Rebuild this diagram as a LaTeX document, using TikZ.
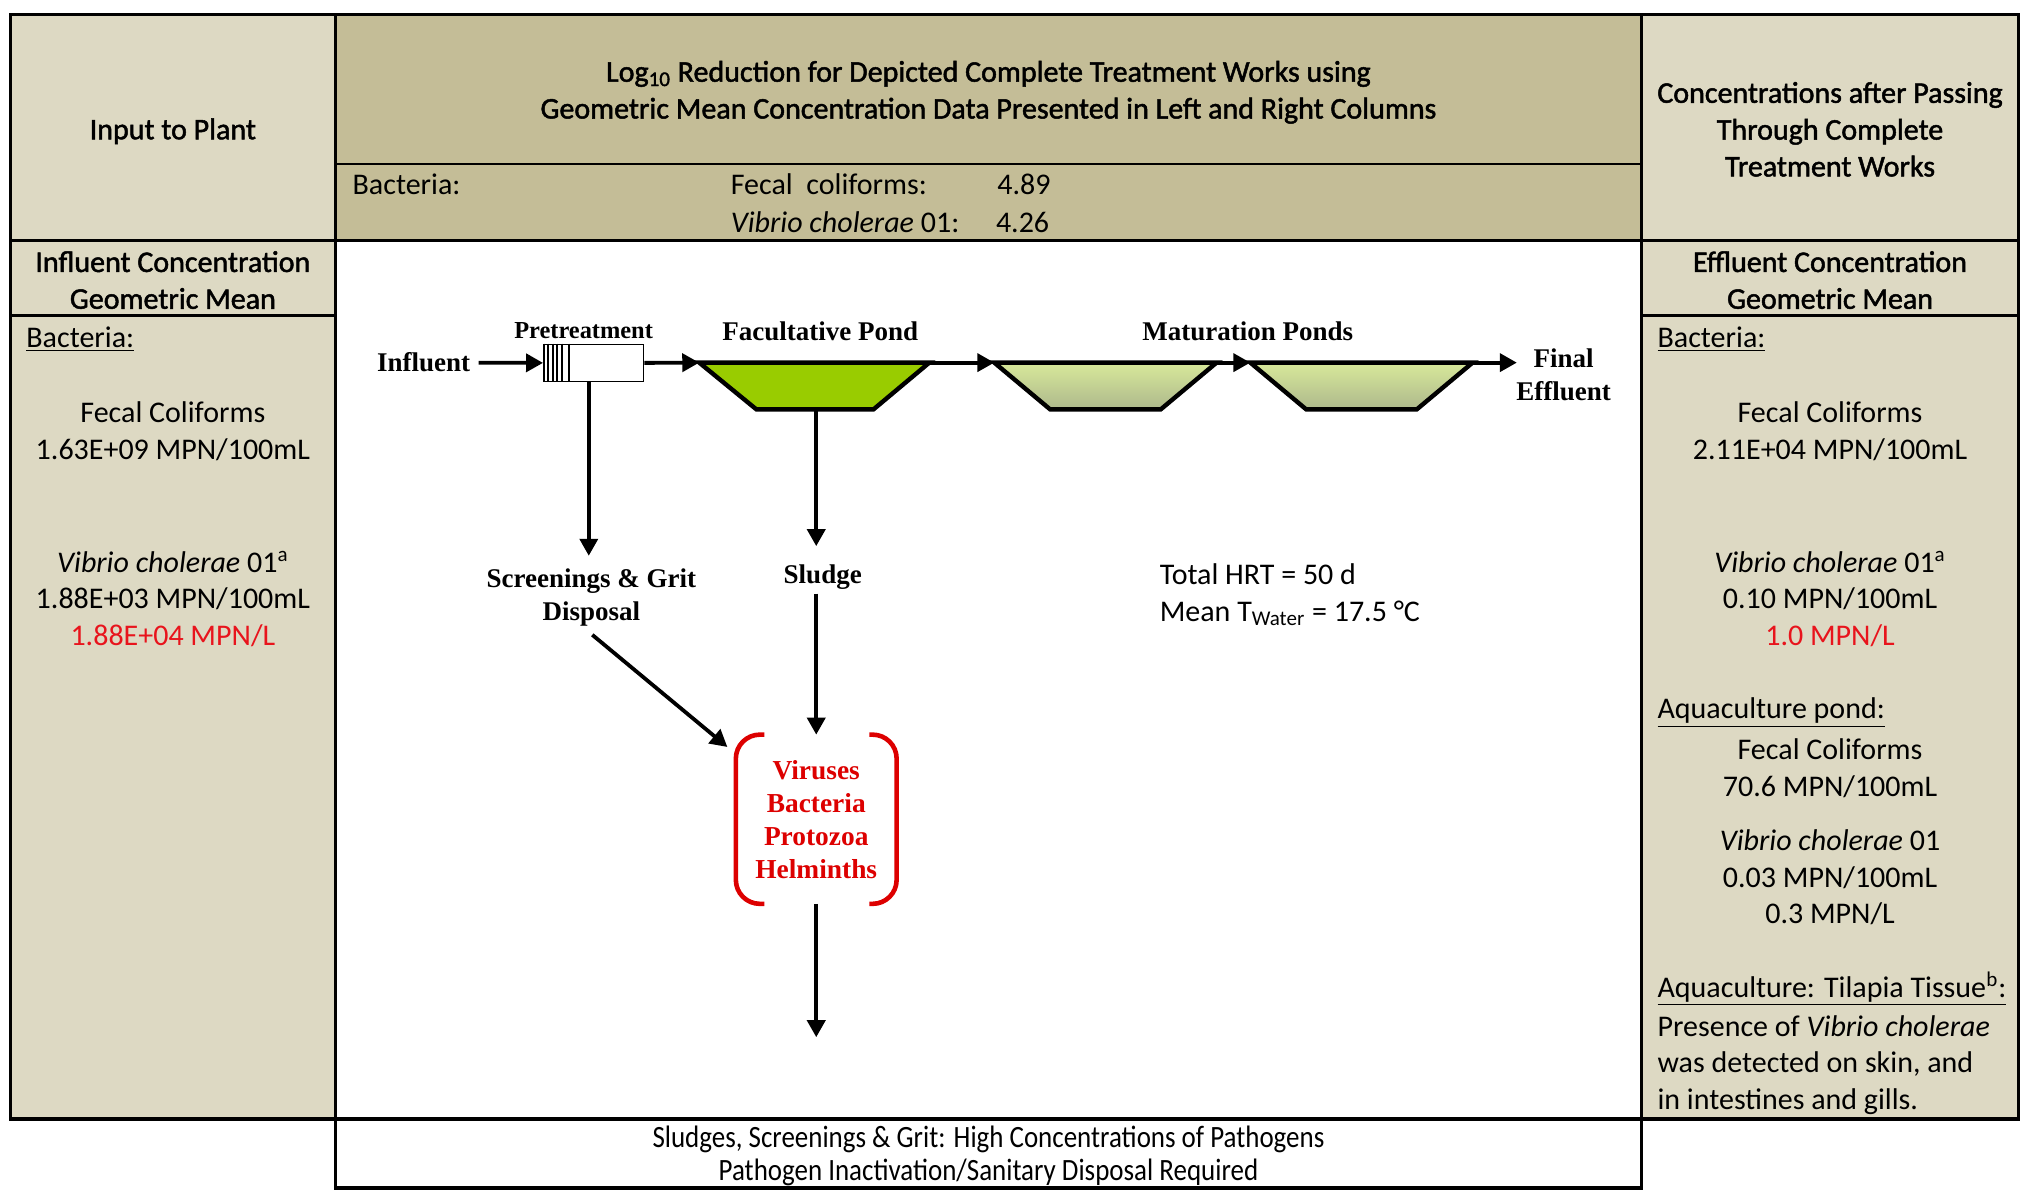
\documentclass[tikz,border=0pt]{standalone}
\usepackage{fontspec}
\setmainfont{Carlito}
\newfontfamily\tnr{Liberation Serif}
\newfontfamily\hdrf[FakeBold=1.6]{Carlito}
\newfontfamily\condf[FakeStretch=0.87]{Carlito}
\usetikzlibrary{arrows.meta,calc}
\definecolor{sidebg}{HTML}{DDD9C3}
\definecolor{headbg}{HTML}{C4BD97}
\definecolor{facg}{HTML}{99CC00}
\definecolor{matt}{HTML}{D8E99A}
\definecolor{matb}{HTML}{ADB88C}
\definecolor{redc}{HTML}{E8141C}
\definecolor{redt}{HTML}{DD0000}
\begin{document}
\begin{tikzpicture}[x=0.64985pt,y=-0.64985pt,
  txt/.style={inner sep=0pt,align=center,font=\fontsize{15}{18.4}\selectfont},
  hdr/.style={inner sep=0pt,align=center,font=\hdrf\fontsize{15}{18.4}\selectfont},
  lft/.style={txt,anchor=west,align=left},
  flow/.style={inner sep=0pt,align=center,font=\tnr\bfseries\fontsize{13.5}{16.5}\selectfont},
  frame/.style={line width=1.6pt},
  thin/.style={line width=0.8pt},
  arr/.style={line width=1.9pt,-{Triangle[length=8.5pt,width=9pt]}},
  pond/.style={line width=2.2pt,line join=miter},
  bracket/.style={draw=redt,line width=2.3pt,rounded corners=12pt},
  prebox/.style={draw,line width=0.7pt,fill=white,minimum width=50pt,minimum height=18.5pt,inner sep=0pt}]
\useasboundingbox[fill=white] (0,0) rectangle (1568,919);
% backgrounds
\fill[sidebg] (8,11) rectangle (258,861);
\fill[sidebg] (1263,11) rectangle (1553,861);
\fill[headbg] (258,11) rectangle (1263,185);
% table lines
\draw[frame] (8,11) rectangle (1553,861);
\draw[frame] (258,11) -- (258,861);
\draw[frame] (1263,11) -- (1263,861);
\draw[frame] (8,185) -- (1553,185);
\draw[thin] (258,126) -- (1263,126);
\draw[frame] (8,243) -- (258,243);
\draw[frame] (1263,243) -- (1553,243);
\draw[frame] (258,861) rectangle (1263,914);

% left column
\node[hdr] (inL) at (133,101) {Input to Plant};
\node[hdr] (hdL) at (133,215.5) {Influent Concentration\\Geometric Mean};
\node[lft] (bacL) at (20,261) {\underline{Bacteria:}};
\node[txt] (fcL) at (133,332) {Fecal Coliforms\\1.63E+09 MPN/100mL};
\node[txt] (vcL) at (133,461) {\textit{Vibrio cholerae} 01\textsuperscript{a}\\1.88E+03 MPN/100mL\\\textcolor{redc}{1.88E+04 MPN/L}};

% middle header
\node[hdr] (title) at (760.5,71) {Log\textsubscript{10} Reduction for Depicted Complete Treatment Works using\\Geometric Mean Concentration Data Presented in Left and Right Columns};
\node[lft] (bacM) at (271,142) {Bacteria:};
\node[lft] (fcM) at (562,142) {Fecal~~coliforms:};
\node[lft] (fcV) at (767,142) {4.89};
\node[lft] (vcM) at (562,171) {\textit{Vibrio cholerae} 01:};
\node[lft] (vcV) at (766,171) {4.26};

% right column
\node[hdr] (inR) at (1408,99.5) {Concentrations after Passing\\Through Complete\\Treatment Works};
\node[hdr] (hdR) at (1408,215.5) {Effluent Concentration\\Geometric Mean};
\node[lft] (bacR) at (1275,261) {\underline{Bacteria:}};
\node[txt] (fcR) at (1408,332) {Fecal Coliforms\\2.11E+04 MPN/100mL};
\node[txt] (vcR) at (1408,461) {\textit{Vibrio cholerae} 01\textsuperscript{a}\\0.10 MPN/100mL\\\textcolor{redc}{1.0 MPN/L}};
\node[lft] (aqR) at (1275,548) {\underline{Aquaculture pond:}};
\node[txt] (afR) at (1408,591) {Fecal Coliforms\\70.6 MPN/100mL};
\node[txt] (avR) at (1408,675) {\textit{Vibrio cholerae} 01\\0.03 MPN/100mL\\0.3 MPN/L};
\node[lft] (tiR) at (1275,761) {\underline{Aquaculture: Tilapia Tissue\textsuperscript{b}:}};
\node[lft] (prR) at (1275,819.5) {Presence of \textit{Vibrio cholerae}\\was detected on skin, and\\in intestines and gills.};

% bottom box
\node[inner sep=0pt,align=center,font=\condf\fontsize{15.5}{16.3}\selectfont] (bot) at (760.5,889.5) {Sludges, Screenings \& Grit: High Concentrations of Pathogens\\Pathogen Inactivation/Sanitary Disposal Required};

% flow diagram
\node[flow] (infl) at (326,279) {Influent};
\node[prebox] (pre) at (456.8,279.2) {};
\foreach \dx in {0.9,4.0,7.4,10.9,14.4}
  \draw[line width=1.1pt] ($(pre.north west)+(\dx,0)$) -- ($(pre.south west)+(\dx,0)$);
\draw[line width=0.6pt] ($(pre.north west)+(20,0)$) -- ($(pre.south west)+(20,0)$);
\node[flow,font=\tnr\bfseries\fontsize{12.2}{14}\selectfont] (prelab) at (449,254) {Pretreatment};
\node[flow] (faclab) at (631,255) {Facultative Pond};
\node[flow] (matlab) at (960,255) {Maturation Ponds};
\node[flow] (fin) at (1203,288) {Final\\Effluent};

% ponds
\coordinate (f1) at (538,279); \coordinate (f2) at (715,279);
\coordinate (f3) at (672,315); \coordinate (f4) at (582,315);
\coordinate (m1) at (765,279); \coordinate (m2) at (936,279);
\coordinate (m3) at (893,315); \coordinate (m4) at (808,315);
\coordinate (n1) at (962,279); \coordinate (n2) at (1133,279);
\coordinate (n3) at (1090,315); \coordinate (n4) at (1005,315);
\draw[pond,fill=facg] (f1) -- (f2) -- (f3) -- (f4) -- cycle;
\draw[pond,top color=matt,bottom color=matb] (m1) -- (m2) -- (m3) -- (m4) -- cycle;
\draw[pond,top color=matt,bottom color=matb] (n1) -- (n2) -- (n3) -- (n4) -- cycle;
\coordinate (fb) at (628,315);
\coordinate (fintip) at (1167,279);

% horizontal flow arrows
\draw[arr,shorten <=4pt] (infl.east) -- (pre.west);
\draw[arr] (pre.east) -- (f1);
\draw[arr] (f2) -- (m1);
\draw[arr] (m2) -- (n1);
\draw[arr] (n2) -- (fintip);

% lower nodes
\node[flow] (scr) at (455,460) {Screenings \& Grit\\Disposal};
\node[flow] (sludge) at (633,444) {Sludge};
\node[inner sep=0pt,minimum width=80pt,minimum height=84.2pt,align=center,text=redt,
  font=\tnr\bfseries\fontsize{13.7}{16.5}\selectfont] (path) at (628,630.3)
  {Viruses\\Bacteria\\Protozoa\\Helminths};
\draw[bracket] ($(path.north west)+(22,0)$) -- (path.north west) -- (path.south west) -- ($(path.south west)+(22,0)$);
\draw[bracket] ($(path.north east)+(-21,0)$) -- (path.north east) -- (path.south east) -- ($(path.south east)+(-21,0)$);
\coordinate (pout) at (628,798);

% vertical / diagonal arrows
\draw[arr] ($(pre.south)+(-3.8,0)$) -- ($(pre.south |- scr.north)+(-3.8,-10)$);
\draw[arr] (fb) -- ($(fb |- sludge.north)+(0,-14)$);
\draw[arr] ($(scr.south)+(0.7,6)$) -- ($(path.north west)+(-6.5,9.5)$);
\draw[arr] ($(sludge.south -| path.north)+(0,3)$) -- (path.north -| fb);
\draw[arr] (path.south -| fb) -- (pout);

% HRT text
\node[lft] (hrt) at (892,457.5) {Total HRT = 50 d\\Mean T\textsubscript{Water} = 17.5 °C};
\end{tikzpicture}
\end{document}
